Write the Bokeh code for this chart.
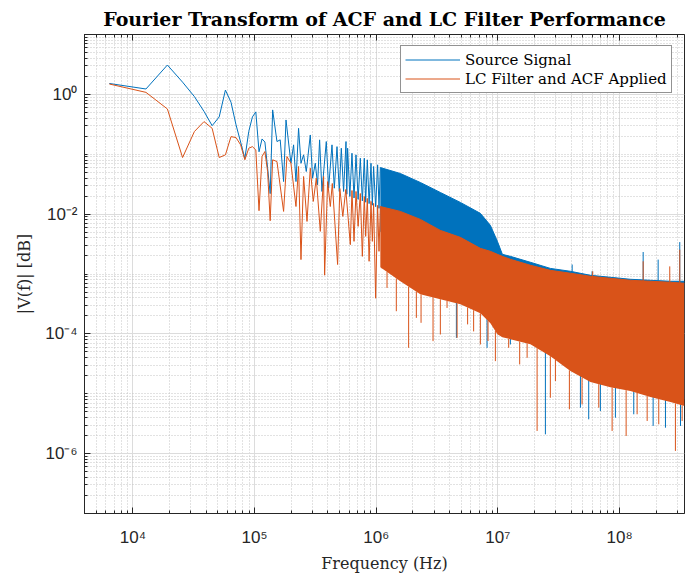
import numpy as np
from bokeh.plotting import figure
from bokeh.models import (Range1d, FixedTicker, CustomJSTickFormatter, Legend, LegendItem,
                          LogAxis)
from bokeh.embed import file_html
from bokeh.resources import INLINE

# ---------------- data ----------------
# Source signal, resolvable part (Hz, |V|)
src_low_f = [6.4e3, 1.28e4, 1.92e4, 2.56e4, 3.2e4, 3.84e4, 4.48e4, 5.12e4, 5.76e4, 6.4e4,
             7.04e4, 7.68e4, 8.32e4, 8.96e4, 9.6e4, 1.024e5, 1.088e5, 1.152e5, 1.216e5, 1.28e5,
             1.344e5, 1.408e5, 1.528e5, 1.625e5, 1.732e5, 1.813e5, 1.99e5, 2.093e5, 2.19e5, 2.30e5,
             2.407e5, 2.529e5, 2.662e5, 2.871e5, 2.999e5, 3.156e5, 3.296e5, 3.424e5, 3.581e5, 3.887e5,
             4.061e5, 4.33e5, 4.523e5, 4.76e5, 4.972e5, 5.164e5, 5.394e5, 5.644e5, 5.73e5, 5.82e5,
             6.07e5, 6.32e5, 6.57e5, 6.82e5, 7.10e5, 7.40e5, 7.69e5, 7.98e5, 8.19e5, 8.45e5,
             8.74e5, 9.06e5, 9.29e5, 9.52e5, 9.89e5, 1.027e6, 1.054e6, 1.081e6]
src_low_v = [1.52, 1.23, 3.09, 1.60, 0.92, 0.52, 0.30, 0.42, 1.18, 0.74,
             0.31, 0.16, 0.085, 0.24, 0.42, 0.51, 0.11, 0.18, 0.16, 0.059,
             0.022, 0.55, 0.163, 0.174, 0.035, 0.374, 0.0708, 0.1435, 0.035, 0.271,
             0.0708, 0.0977, 0.0515, 0.21, 0.0398, 0.0708, 0.0309, 0.174, 0.0239, 0.163,
             0.0271, 0.1435, 0.0271, 0.134, 0.0239, 0.126, 0.0239, 0.163, 0.0215, 0.126,
             0.0197, 0.104, 0.0186, 0.0977, 0.0176, 0.0858, 0.0166, 0.0858, 0.0158, 0.0807,
             0.015, 0.0708, 0.0141, 0.0624, 0.0133, 0.0666, 0.0125, 0.06]

# LC filter + ACF applied, resolvable part
lcf_low_f = [6.4e3, 1.28e4, 1.92e4, 2.56e4, 3.2e4, 3.84e4, 4.48e4, 5.12e4, 5.76e4, 6.4e4,
             7.04e4, 7.68e4, 8.32e4, 8.96e4, 9.6e4, 1.024e5, 1.088e5, 1.152e5, 1.216e5, 1.28e5,
             1.344e5, 1.408e5, 1.528e5, 1.732e5, 1.847e5, 1.99e5, 2.19e5, 2.30e5, 2.407e5, 2.529e5,
             2.698e5, 2.871e5, 3.039e5, 3.217e5, 3.47e5, 3.694e5, 3.765e5, 3.985e5, 4.194e5, 4.355e5,
             4.815e5, 5.021e5, 5.314e5, 5.623e5, 6.124e5, 6.32e5, 6.57e5, 6.82e5, 7.10e5, 7.40e5,
             7.69e5, 7.98e5, 8.19e5, 8.45e5, 8.74e5, 9.06e5, 9.29e5, 9.52e5, 9.89e5, 1.027e6,
             1.054e6, 1.081e6]
lcf_low_v = [1.49, 1.08, 0.571, 0.0881, 0.239, 0.351, 0.271, 0.0881, 0.0977, 0.197,
             0.19, 0.1435, 0.0807, 0.126, 0.134, 0.118, 0.0114, 0.0916, 0.111, 0.0515,
             0.00776, 0.0807, 0.0755, 0.0111, 0.0916, 0.0708, 0.0134, 0.0624, 0.00174, 0.0425,
             0.00755, 0.0585, 0.0163, 0.0398, 0.00515, 0.0425, 0.000955, 0.035, 0.0134, 0.0325,
             0.00144, 0.0268, 0.00916, 0.0258, 0.00309, 0.0248, 0.00351, 0.0239, 0.00624, 0.0221,
             0.00197, 0.0197, 0.00425, 0.0183, 0.00163, 0.0163, 0.00351, 0.0151, 0.000394, 0.014,
             0.00239, 0.0134]

# Dense high-frequency part: top / bottom of the filled band
band_f = [1.081e6, 1.579e6, 2.305e6, 3.366e6, 4.916e6, 7.18e6, 8.68e6,
          9.91e6, 1.089e7, 1.267e7, 1.851e7, 2.703e7, 3.947e7, 5.764e7, 8.42e7, 1.229e8, 1.796e8,
          2.622e8, 3.42e8]
src_top = [0.06, 0.0477, 0.0338, 0.023, 0.0157, 0.0103, 0.00649,
           0.00351, 0.00213, 0.00197, 0.00157, 0.00124, 0.00111, 0.000951, 0.000881, 0.000816, 0.000785,
           0.000756, 0.000756]
src_bot = [0.00515, 0.00163, 0.0006, 0.0005, 0.0004, 0.0003, 0.0002,
           0.00013, 0.00012, 0.00011, 9e-5, 5.5e-5, 3.1e-5, 2e-5, 1.7e-5, 1.45e-5, 1.15e-5,
           9.5e-6, 8e-6]
lcf_top = [0.0134, 0.0111, 0.00817, 0.00535, 0.00409, 0.00268, 0.00239,
           0.00213, 0.00197, 0.00176, 0.0014, 0.00115, 0.00103, 0.000916, 0.000848, 0.000785, 0.000756,
           0.000728, 0.0007]
lcf_bot = [0.0013, 0.000756, 0.000459, 0.000379, 0.000313, 0.000221, 0.000151,
           9.9e-5, 8.81e-5, 8.16e-5, 6.73e-5, 4.25e-5, 2.39e-5, 1.57e-5, 1.29e-5, 1.11e-5, 8.81e-6,
           7.28e-6, 6.24e-6]

# Deep dips below the band
src_dip_f = [4.56e6, 8.15e6, 1.267e7, 2.458e7, 4.77e7, 5.58e7, 6.96e7, 9.25e7,
             1.309e8, 1.889e8, 2.385e8, 3.17e8]
src_dip_v = [8.58e-5, 5.85e-5, 6.65e-5, 2.1e-6, 5.85e-6, 3.74e-6, 5.15e-6, 3.98e-6,
             4.54e-6, 2.9e-6, 2.71e-6, 2.9e-6]
lcf_dip_f = [1.116e6, 1.227e6, 1.463e6, 1.847e6, 2.137e6, 2.336e6, 2.931e6, 3.366e6, 3.82e6,
             4.62e6, 5.64e6, 6.32e6, 7.18e6, 8.3e6, 9.54e6, 1.227e7, 1.511e7, 1.739e7, 2.101e7,
             2.70e7, 2.971e7, 3.87e7, 4.92e7, 6.75e7, 8.69e7, 1.133e8, 1.395e8, 1.687e8, 2.101e8,
             2.88e8, 3.27e8]
lcf_dip_v = [0.00126, 0.000585, 0.000239, 5.85e-5, 0.000185, 0.000153, 7.56e-5, 9.77e-5, 0.000271,
             8.58e-5, 0.000144, 0.00011, 6.65e-5, 7.6e-5, 3.51e-5, 5.85e-5, 3.09e-5, 3.98e-5, 2.39e-6,
             8.57e-6, 1.63e-5, 5.5e-6, 6.65e-6, 5.85e-6, 2.39e-6, 1.97e-6, 4.54e-6, 3.51e-6, 3.09e-6,
             1.11e-6, 3.51e-6]

# Isolated peaks above the band
src_peak_f = [4.08e7, 5.95e7, 1.564e8, 2.077e8, 3.126e8]
src_peak_v = [0.00144, 0.00111, 0.00233, 0.00174, 0.00341]
lcf_peak_f = [6.02e7, 1.564e8, 2.587e8, 3.126e8]
lcf_peak_v = [0.00111, 0.00163, 0.00134, 0.00255]

# Axis ticks and labels
x_major_ticks = [1e4, 1e5, 1e6, 1e7, 1e8]
y_major_ticks = [1e-6, 1e-4, 1e-2, 1e0]
series_labels = ["Source Signal", "LC Filter and ACF Applied"]
title_text = "Fourier Transform of ACF and LC Filter Performance"
x_label = "Frequency (Hz)"
y_label = "|V(f)| [dB]"

# ---------------- styling ----------------
BLUE = "#0072BD"
ORANGE = "#D95319"
AX = "#262626"

p = figure(width=685, height=578, x_axis_type="log", y_axis_type="log",
           x_range=Range1d(4000, 3.42e8), y_range=Range1d(1e-7, 10),
           output_backend="svg", toolbar_location=None,
           min_border_left=84, min_border_right=1, min_border_top=33, min_border_bottom=65,
           title=title_text)
p.background_fill_color = "white"
p.border_fill_color = "white"
p.outline_line_color = AX
p.outline_line_width = 1

p.title.text_font = "DejaVu Serif"
p.title.text_font_style = "bold"
p.title.text_font_size = "19px"
p.title.align = "center"
p.title.text_color = "black"
p.title.standoff = 10

def base_at(f, ef, ev):
    return 10 ** np.interp(np.log10(f), np.log10(ef), np.log10(ev))

def draw(low_f, low_v, top, bot, dip_f, dip_v, pk_f, pk_v, color):
    p.varea(x=band_f, y1=bot, y2=top, fill_color=color, fill_alpha=1.0)
    p.line(band_f, top, line_color=color, line_width=1)
    p.segment(x0=dip_f, y0=dip_v, x1=dip_f, y1=base_at(dip_f, band_f, bot),
              line_color=color, line_width=1)
    p.segment(x0=pk_f, y0=pk_v, x1=pk_f, y1=base_at(pk_f, band_f, top),
              line_color=color, line_width=1)
    return p.line(low_f, low_v, line_color=color, line_width=1)

r_src = draw(src_low_f, src_low_v, src_top, src_bot, src_dip_f, src_dip_v,
             src_peak_f, src_peak_v, BLUE)
r_lcf = draw(lcf_low_f, lcf_low_v, lcf_top, lcf_bot, lcf_dip_f, lcf_dip_v,
             lcf_peak_f, lcf_peak_v, ORANGE)

# ticks / grids
x_minor = [k * 10.0 ** n for n in range(3, 9) for k in range(1, 10)]
y_minor = [k * 10.0 ** n for n in range(-7, 1) for k in range(1, 10)] + [10.0]
xt = FixedTicker(ticks=x_major_ticks, minor_ticks=x_minor)
yt = FixedTicker(ticks=y_major_ticks, minor_ticks=y_minor)
p.xaxis[0].ticker = xt
p.yaxis[0].ticker = yt
p.xgrid[0].ticker = xt
p.ygrid[0].ticker = yt

fmt = CustomJSTickFormatter(code="""
const sup = {"0":"\u2070","1":"\u00b9","2":"\u00b2","3":"\u00b3","4":"\u2074","5":"\u2075",
             "6":"\u2076","7":"\u2077","8":"\u2078","9":"\u2079","-":"\u207b"};
const e = Math.round(Math.log10(tick));
return "10" + String(e).split("").map(c => sup[c]).join("");
""")
for ax in (p.xaxis[0], p.yaxis[0]):
    ax.formatter = fmt
    ax.axis_line_color = AX
    ax.major_tick_line_color = AX
    ax.minor_tick_line_color = AX
    ax.major_tick_in = 6
    ax.major_tick_out = 0
    ax.minor_tick_in = 3
    ax.minor_tick_out = 0
    ax.major_label_text_font = "Liberation Sans"
    ax.major_label_text_font_size = "17px"
    ax.major_label_text_color = AX
    ax.axis_label_text_font = "DejaVu Serif"
    ax.axis_label_text_font_size = "16px"
    ax.axis_label_text_font_style = "normal"
    ax.axis_label_text_color = AX
p.xaxis[0].axis_label = x_label
p.yaxis[0].axis_label = y_label
p.xaxis[0].major_label_standoff = 14
p.xaxis[0].axis_label_standoff = 4
p.yaxis[0].major_label_standoff = 7
p.yaxis[0].axis_label_standoff = 8

# box ticks along the top edge (labels invisible)
top_axis = LogAxis(ticker=xt, formatter=fmt, major_label_text_font_size="2px",
                   major_label_text_alpha=0.0, major_label_standoff=0,
                   axis_line_color=AX, major_tick_line_color=AX, minor_tick_line_color=AX,
                   major_tick_in=6, major_tick_out=0, minor_tick_in=3, minor_tick_out=0)
p.add_layout(top_axis, "above")

for g in (p.xgrid[0], p.ygrid[0]):
    g.grid_line_color = "#dcdcdc"
    g.grid_line_width = 1
    g.minor_grid_line_color = "#c4c4c4"
    g.minor_grid_line_dash = "1 2"
    g.minor_grid_line_width = 1

legend = Legend(items=[LegendItem(label=series_labels[0], renderers=[r_src]),
                       LegendItem(label=series_labels[1], renderers=[r_lcf])],
                location=(316, 420))
legend.label_text_font = "DejaVu Serif"
legend.label_text_font_size = "15px"
legend.label_text_color = "black"
legend.glyph_width = 55
legend.glyph_height = 19
legend.label_height = 19
legend.label_standoff = 5
legend.padding = 4
legend.spacing = 0
legend.margin = 0
legend.border_line_color = AX
legend.border_line_width = 1
legend.background_fill_alpha = 1.0
p.add_layout(legend)

open("out.html", "w").write(file_html(p, INLINE))
